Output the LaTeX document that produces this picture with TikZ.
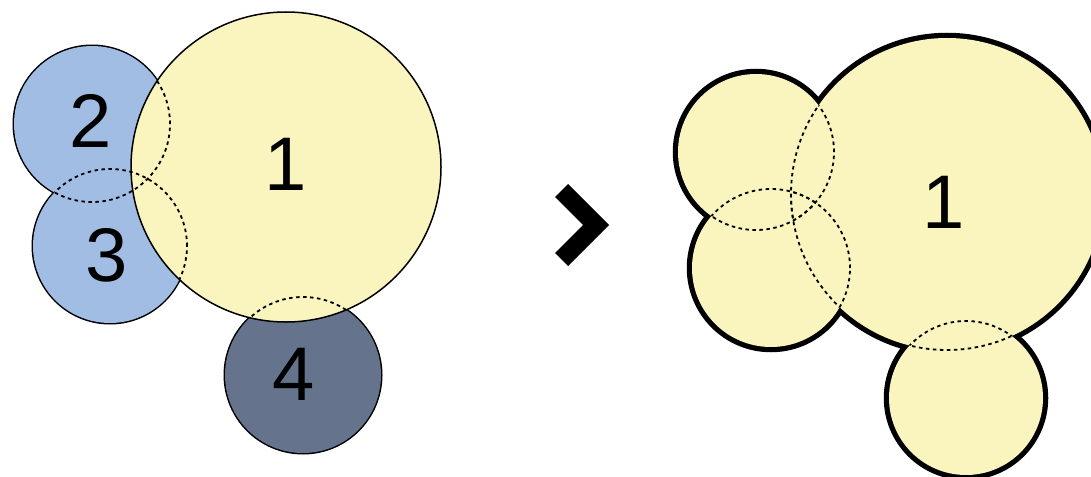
\documentclass[tikz,border=0pt]{standalone}
\usepackage{fontspec}
\setmainfont{Liberation Sans}
\usetikzlibrary{positioning}
\definecolor{paleyellow}{RGB}{250,245,190}
\definecolor{lightblue}{RGB}{161,189,228}
\definecolor{slateblue}{RGB}{101,116,140}

\begin{document}
\begin{tikzpicture}[x=1pt, y=-1pt,
  thinline/.style={draw=black, line width=3pt},
  boldline/.style={draw=black, line width=10.5pt},
  hidden/.style={draw=black, line width=1.8pt, dash pattern=on 3.5pt off 3.5pt},
  num/.style={font=\fontsize{76}{76}\selectfont, inner sep=0pt}
]
\useasboundingbox (0,0) rectangle (1091,476);

% left group: centres
\coordinate (one)   at (286,167);
\coordinate (two)   at (92,124);
\coordinate (three) at (110,246);
\coordinate (four)  at (303,375);

% outlines first, fills on top (only the outer half shows)
\draw[thinline] (two) circle[radius=78pt] (three) circle[radius=77pt]
                (four) circle[radius=78pt];
\fill[lightblue] (two) circle[radius=78pt] (three) circle[radius=77pt];
\fill[slateblue] (four) circle[radius=78pt];
\begin{scope}
  \clip (two) circle[radius=78pt];
  \draw[hidden] (three) circle[radius=77pt];
\end{scope}
\begin{scope}
  \clip (three) circle[radius=77pt];
  \draw[hidden] (two) circle[radius=78pt];
\end{scope}

\fill[paleyellow] (one) circle[radius=155pt];
\begin{scope}
  \clip (one) circle[radius=155pt];
  \draw[hidden] (two) circle[radius=78pt] (three) circle[radius=77pt]
                (four) circle[radius=78pt];
\end{scope}
\draw[draw=black, line width=1.5pt] (one) circle[radius=155pt];

\node[num] (lbl1) at (286,164) {1};
\node[num] (lbl2) at (91,121) {2};
\node[num] (lbl3) at (107,255) {3};
\node[num] (lbl4) at (294,374) {4};

% chevron
\fill[black] (568,184) -- (609,225) -- (568,266) -- (555,253) -- (583,225)
  -- (555,197) -- cycle;

% right group: merged shape
\coordinate (big)   at (947,194);
\coordinate (upper) at (756,152);
\coordinate (lower) at (771,268);
\coordinate (foot)  at (966,398);

\draw[boldline] (big) circle[radius=156pt] (upper) circle[radius=78pt]
                (lower) circle[radius=79pt] (foot) circle[radius=77pt];
\fill[paleyellow] (big) circle[radius=156pt] (upper) circle[radius=78pt]
                  (lower) circle[radius=79pt] (foot) circle[radius=77pt];
\begin{scope}
  \clip (big) circle[radius=156pt];
  \draw[hidden] (upper) circle[radius=78pt] (lower) circle[radius=79pt]
                (foot) circle[radius=77pt];
\end{scope}
\begin{scope}
  \clip (upper) circle[radius=78pt];
  \draw[hidden] (big) circle[radius=156pt] (lower) circle[radius=79pt];
\end{scope}
\begin{scope}
  \clip (lower) circle[radius=79pt];
  \draw[hidden] (big) circle[radius=156pt] (upper) circle[radius=78pt];
\end{scope}
\begin{scope}
  \clip (foot) circle[radius=77pt];
  \draw[hidden] (big) circle[radius=156pt];
\end{scope}

\node[num] (lblbig) at (944,202) {1};
\end{tikzpicture}
\end{document}
